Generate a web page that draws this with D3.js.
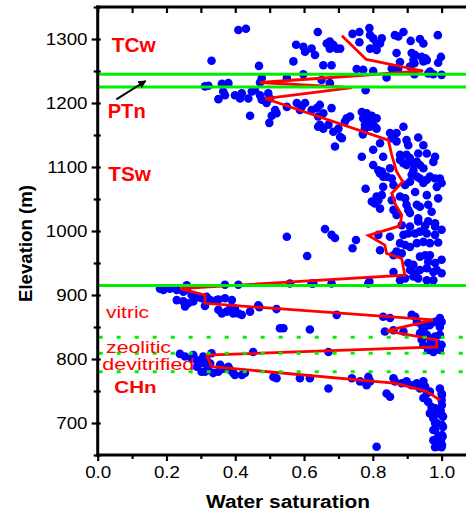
<!DOCTYPE html>
<html>
<head>
<meta charset="utf-8">
<script src="https://cdn.jsdelivr.net/npm/d3@7"></script>
<style>
  body { margin: 0; background: #fff; }
  svg { display: block; }
  text { font-family: Arial, "Liberation Sans", sans-serif; }
</style>
</head>
<body>
<svg id="chart" width="466" height="513"></svg>
<script>
// Measured water saturation vs. elevation, grouped by hydrogeologic unit: [saturation, elevation m]
const tcwSamples = [
  [0.409,1314],[0.431,1316],[0.331,1266],[0.469,1258],[0.577,1291],[0.598,1288],[0.603,1280],[0.622,1285],
  [0.632,1275],[0.640,1311],[0.569,1265],[0.656,1259],[0.675,1296],[0.685,1291],[0.675,1285],[0.695,1285],
  [0.705,1285],[0.741,1308],[0.761,1311],[0.761,1295],[0.790,1317],[0.792,1306],[0.801,1301],[0.811,1293],
  [0.826,1301],[0.821,1293],[0.792,1285],[0.811,1283],[0.864,1306],[0.874,1304],[0.889,1311],[0.910,1297],
  [0.937,1300],[0.947,1293],[0.989,1306],[0.869,1278],[0.913,1278],[0.923,1275],[0.918,1267],[0.942,1272],
  [0.952,1270],[0.957,1267],[0.947,1265],[0.998,1272],[0.990,1263],[0.879,1264],[0.874,1254],[0.855,1254],
  [0.864,1252],[0.921,1262],[0.680,1259],[0.753,1253],[0.772,1252],[0.801,1250],[0.666,1293],[0.908,1257],
  [0.966,1249]
];
const ptnSamples = [
  [0.598,1245],[0.550,1239],[0.477,1239],[0.472,1232],[0.312,1226],[0.322,1227],[0.361,1230],[0.380,1231],
  [0.921,1245],[0.961,1246],[0.976,1245],[1.000,1244],[0.840,1240],[0.675,1231],[0.651,1236],[0.779,1220]
];
const tswSamples = [
  [0.365,1218],[0.370,1212],[0.351,1206],[0.399,1212],[0.414,1207],[0.419,1215],[0.438,1207],[0.448,1218],
  [0.457,1220],[0.472,1212],[0.477,1205],[0.496,1215],[0.501,1207],[0.491,1200],[0.516,1189],[0.520,1184],
  [0.506,1180],[0.550,1194],[0.579,1200],[0.603,1200],[0.588,1189],[0.443,1180],[0.622,1189],[0.637,1192],
  [0.641,1179],[0.656,1184],[0.646,1197],[0.680,1192],[0.734,1179],[0.768,1186],[0.782,1184],[0.797,1180],
  [0.811,1176],[0.777,1166],[0.806,1163],[0.797,1171],[0.724,1176],[0.641,1163],[0.656,1160],[0.671,1166],
  [0.685,1155],[0.705,1147],[0.690,1132],[0.499,1169],[0.593,1194],[0.646,1166],[0.700,1160],[0.719,1171],
  [0.710,1145],[0.772,1176],[0.792,1173],[0.777,1160],[0.792,1163],[0.811,1160],[0.771,1151],[0.850,1153],
  [0.869,1153],[0.855,1145],[0.889,1163],[0.869,1140],[0.898,1142],[0.903,1134],[0.932,1146],[0.947,1134],
  [0.821,1137],[0.801,1127],[0.768,1116],[0.830,1116],[0.879,1119],[0.898,1119],[0.908,1114],[0.879,1111],
  [0.889,1106],[0.898,1103],[0.928,1108],[0.932,1121],[0.957,1121],[0.981,1116],[0.976,1108],[0.801,1103],
  [0.816,1095],[0.826,1093],[0.850,1098],[0.840,1085],[0.855,1082],[0.860,1072],[0.830,1069],[0.918,1106],
  [0.937,1103],[0.947,1098],[0.918,1095],[0.913,1088],[0.928,1085],[0.937,1082],[0.966,1085],[0.981,1082],
  [0.995,1082],[1.000,1075],[0.894,1072],[0.908,1077],[0.923,1061],[0.947,1075],[0.957,1080],[0.986,1069],
  [0.779,1066],[0.826,1056],[0.816,1048],[0.806,1043],[0.821,1035],[0.879,1054],[0.894,1051],[0.898,1041],
  [0.903,1033],[0.928,1041],[0.937,1038],[0.957,1056],[0.961,1041],[0.990,1051],[0.860,1033],[0.869,1025],
  [0.908,1028],[0.932,1020],[0.961,1015],[0.981,1012],[0.971,1030],[0.855,1048],[0.821,1090],[0.830,1085],
  [0.797,1046],[0.811,1054],[0.550,991],[0.661,1003],[0.680,994],[0.690,989],[0.751,986],[0.741,973],
  [0.609,961],[0.816,994],[0.850,991],[0.821,970],[0.884,1009],[0.908,1007],[0.932,1015],[0.952,1008],
  [0.981,1007],[1.000,1002],[0.889,994],[0.903,996],[0.923,996],[0.937,999],[0.957,996],[0.981,994],
  [0.879,981],[0.894,978],[0.908,975],[0.928,981],[0.947,983],[0.966,981],[0.990,982],[0.869,968],
  [0.860,962],[0.884,965],[0.903,950],[0.918,947],[0.937,960],[0.952,962],[0.961,952],[0.981,950],
  [1.000,955],[0.966,962],[0.908,939],[0.923,934],[0.937,939],[0.957,942],[0.986,939],[1.000,934],
  [0.976,936],[0.860,936],[0.879,923],[0.894,926],[0.918,929],[0.932,926],[0.957,923],[0.976,923],
  [0.790,921],[0.680,918],[0.370,916],[0.409,916],[0.559,918],[0.622,918],[0.627,918],[0.787,918]
];
const chnSamples = [
  [0.259,915],[0.249,905],[0.273,900],[0.293,897],[0.249,890],[0.263,887],[0.278,890],[0.254,882],
  [0.317,897],[0.327,892],[0.351,893],[0.370,895],[0.312,883],[0.351,877],[0.361,871],[0.375,874],
  [0.385,879],[0.399,879],[0.409,871],[0.419,869],[0.443,874],[0.470,881],[0.520,878],[0.530,848],
  [0.540,848],[0.617,846],[0.191,908],[0.210,910],[0.230,908],[0.259,909],[0.230,892],[0.302,895],
  [0.346,892],[0.390,892],[0.394,871],[0.181,910],[0.467,884],[0.695,869],[0.830,866],[0.850,864],
  [0.913,869],[0.923,866],[0.928,858],[0.942,853],[0.952,850],[0.966,853],[0.981,858],[0.995,864],
  [1.000,858],[0.995,850],[0.835,843],[0.860,845],[0.889,843],[0.942,843],[0.957,838],[0.966,832],
  [0.981,835],[0.995,838],[0.986,825],[0.966,822],[0.947,822],[0.942,830],[0.961,814],[0.976,811],
  [0.995,814],[0.452,811],[0.671,811],[1.000,822],[0.937,840],
  [0.239,808],[0.254,804],[0.273,801],[0.288,798],[0.297,793],[0.307,804],[0.317,791],[0.288,788],
  [0.302,780],[0.322,783],[0.336,778],[0.351,780],[0.365,785],[0.385,783],[0.399,775],[0.278,806],
  [0.317,798],[0.327,793],[0.331,809],[0.356,791],[0.380,788],[0.312,780],[0.394,778],[0.419,775],
  [0.428,778],[0.511,772],[0.520,770],[0.588,770],[0.617,770],[0.671,754],[0.739,770],[0.763,765],
  [0.782,759],[0.792,765],[0.787,772],[0.840,746],[0.850,741],[0.860,770],[0.864,765],[0.884,762],
  [0.898,765],[0.913,759],[0.928,762],[0.937,754],[0.957,746],[0.947,739],[0.961,733],[0.971,725],
  [0.966,715],[0.976,707],[0.986,700],[0.981,689],[0.990,679],[0.976,673],[0.995,668],[0.986,663],
  [1.000,662],[0.981,662],[0.995,754],[1.000,746],[1.000,736],[0.997,720],[1.004,710],[1.004,694],
  [1.003,679],[0.811,663],[0.947,765],[0.952,757],[0.966,749],[0.971,720],[0.981,723],[1.001,744],
  [1.001,728],[1.001,712],[1.001,697],[1.001,681],[1.001,666],[0.998,673],[0.976,710],[0.981,700],
  [0.976,689],[0.981,673],[0.990,715]
];

// Averaged saturation profile: [saturation, elevation m]
const meanProfile = [
  [0.710,1305],[0.781,1268],[0.946,1250],[0.472,1232],[0.740,1224],[0.487,1207],[0.845,1142],[0.855,1119],
  [0.869,1093],[0.887,1077],[0.855,1059],[0.864,1043],[0.884,1025],[0.879,1008],[0.787,993],[0.835,978],
  [0.840,965],[0.884,957],[0.893,931],[0.239,910],[0.312,900],[0.312,887],[0.976,861],[0.840,844],
  [0.986,830],[0.986,819],[0.317,806],[0.331,788],[0.869,762],[0.957,749],[0.995,736]
];

// Unit contacts (m): solid = major units, dotted = CHn sub-units
const majorContacts = [1245, 1225, 915];
const minorContacts = [834, 809, 780];

// Axis ticks
const xMajorTicks = [0.0, 0.2, 0.4, 0.6, 0.8, 1.0];
const xMinorTicks = [0.1, 0.3, 0.5, 0.7, 0.9, 1.1];
const yMajorTicks = [700, 800, 900, 1000, 1100, 1200, 1300];
const yMinorTicks = [650, 750, 850, 950, 1050, 1150, 1250, 1350];

const svg = d3.select("#chart");
const x = d3.scaleLinear().domain([0, 1.1]).range([97.7, 476]);
const y = d3.scaleLinear().domain([650, 1350]).range([455, 7]);

const plot = svg.append("g");
svg.append("defs").append("clipPath").attr("id", "plotClip")
  .append("rect").attr("x", x(0)).attr("y", y(1350)).attr("width", x(1.1) - x(0)).attr("height", y(650) - y(1350));
plot.attr("clip-path", "url(#plotClip)");

// scatter
const allSamples = tcwSamples.concat(ptnSamples, tswSamples, chnSamples);
plot.append("g").selectAll("circle").data(allSamples).join("circle")
  .attr("cx", d => x(d[0])).attr("cy", d => y(d[1])).attr("r", 4.3)
  .attr("fill", "#0000ff");

// mean profile
plot.append("path").datum(meanProfile)
  .attr("d", d3.line().x(d => x(d[0])).y(d => y(d[1])))
  .attr("fill", "none").attr("stroke", "#ff0000").attr("stroke-width", 2.8)
  .attr("stroke-linejoin", "miter");

// contacts
plot.append("g").selectAll("line").data(majorContacts).join("line")
  .attr("x1", x(0)).attr("x2", x(1.1)).attr("y1", d => y(d)).attr("y2", d => y(d))
  .attr("stroke", "#00ee00").attr("stroke-width", 3);
plot.append("g").selectAll("line").data(minorContacts).join("line")
  .attr("x1", x(0)).attr("x2", x(1.1)).attr("y1", d => y(d)).attr("y2", d => y(d))
  .attr("stroke", "#00ee00").attr("stroke-width", 3).attr("stroke-dasharray", "4,14")
  .attr("stroke-dashoffset", -1);

// axes
const axisG = svg.append("g");
const fmtY = d3.format("d"), fmtX = d3.format(".1f");

const leftMajor = axisG.append("g").attr("transform", `translate(${x(0)},0)`)
  .call(d3.axisLeft(y).tickValues(yMajorTicks).tickSize(6).tickFormat(fmtY));
const leftMinor = axisG.append("g").attr("transform", `translate(${x(0)},0)`)
  .call(d3.axisLeft(y).tickValues(yMinorTicks).tickSize(4).tickFormat(""));
const bottomMajor = axisG.append("g").attr("transform", `translate(0,${y(650)})`)
  .call(d3.axisBottom(x).tickValues(xMajorTicks).tickSize(6).tickFormat(fmtX));
const bottomMinor = axisG.append("g").attr("transform", `translate(0,${y(650)})`)
  .call(d3.axisBottom(x).tickValues(xMinorTicks).tickSize(4).tickFormat(""));
const topMajor = axisG.append("g").attr("transform", `translate(0,${y(1350)})`)
  .call(d3.axisTop(x).tickValues(xMajorTicks.concat(xMinorTicks)).tickSize(-6).tickFormat(""));
const leftInner = axisG.append("g").attr("transform", `translate(${x(0)},0)`)
  .call(d3.axisLeft(y).tickValues(yMajorTicks.concat(yMinorTicks)).tickSize(-3).tickFormat(""));

axisG.selectAll(".domain").remove();
axisG.selectAll(".tick line").attr("stroke", "#000").attr("stroke-width", 2.2);
axisG.selectAll(".tick text").attr("fill", "#000").style("font-size", "16.3px");

leftMajor.selectAll(".tick text")
  .attr("x", -10.2 / 1.15).attr("dy", "0.36em")
  .attr("transform", "scale(1.15,1)");
bottomMajor.selectAll(".tick text")
  .attr("y", 22.7).attr("dy", null)
  .attr("transform", "scale(1.15,1)");

// frame
const frame = svg.append("g").attr("stroke", "#000").attr("stroke-width", 3).attr("stroke-linecap", "square");
frame.append("line").attr("x1", x(0)).attr("x2", x(0)).attr("y1", y(1350)).attr("y2", y(650));
frame.append("line").attr("x1", x(0)).attr("x2", x(1.1)).attr("y1", y(650)).attr("y2", y(650));
frame.append("line").attr("x1", x(0)).attr("x2", x(1.1)).attr("y1", y(1350)).attr("y2", y(1350));

// axis titles
svg.append("text").attr("x", 288).attr("y", 508).attr("text-anchor", "middle")
  .attr("font-weight", "bold").style("font-size", "18px")
  .attr("textLength", 164).attr("lengthAdjust", "spacingAndGlyphs")
  .text("Water saturation");
svg.append("text").attr("transform", "translate(32,243.5) rotate(-90)").attr("text-anchor", "middle")
  .attr("font-weight", "bold").style("font-size", "18px")
  .attr("textLength", 117).attr("lengthAdjust", "spacingAndGlyphs")
  .text("Elevation (m)");

// unit labels
const unitLabels = [
  { t: "TCw", x: 111.7, y: 52.3, size: 20, bold: true, len: 44 },
  { t: "PTn", x: 107.7, y: 118.3, size: 20, bold: true, len: 38 },
  { t: "TSw", x: 108.3, y: 181, size: 20, bold: true, len: 42.7 },
  { t: "vitric", x: 106, y: 318.3, size: 17, bold: false, len: 43 },
  { t: "zeolitic", x: 106, y: 352.7, size: 17, bold: false, len: 65 },
  { t: "devitrified", x: 102.3, y: 370, size: 17, bold: false, len: 92 },
  { t: "CHn", x: 114.3, y: 393.3, size: 17, bold: true, len: 42.4 }
];
svg.append("g").selectAll("text").data(unitLabels).join("text")
  .attr("x", d => d.x).attr("y", d => d.y)
  .attr("fill", "#ff0000").attr("font-weight", d => d.bold ? "bold" : "normal")
  .style("font-size", d => d.size + "px")
  .attr("textLength", d => d.len).attr("lengthAdjust", "spacingAndGlyphs")
  .text(d => d.t);

// arrow pointing at the PTn interval
svg.select("defs").append("marker").attr("id", "arrowHead")
  .attr("viewBox", "0 0 10 10").attr("refX", 9).attr("refY", 5)
  .attr("markerWidth", 4).attr("markerHeight", 4).attr("orient", "auto")
  .append("path").attr("d", "M0,0 L10,5 L0,10 z").attr("fill", "#000");
svg.append("line").attr("x1", 116.3).attr("y1", 99.3).attr("x2", 145.7).attr("y2", 81)
  .attr("stroke", "#000").attr("stroke-width", 2).attr("marker-end", "url(#arrowHead)");
</script>
</body>
</html>
